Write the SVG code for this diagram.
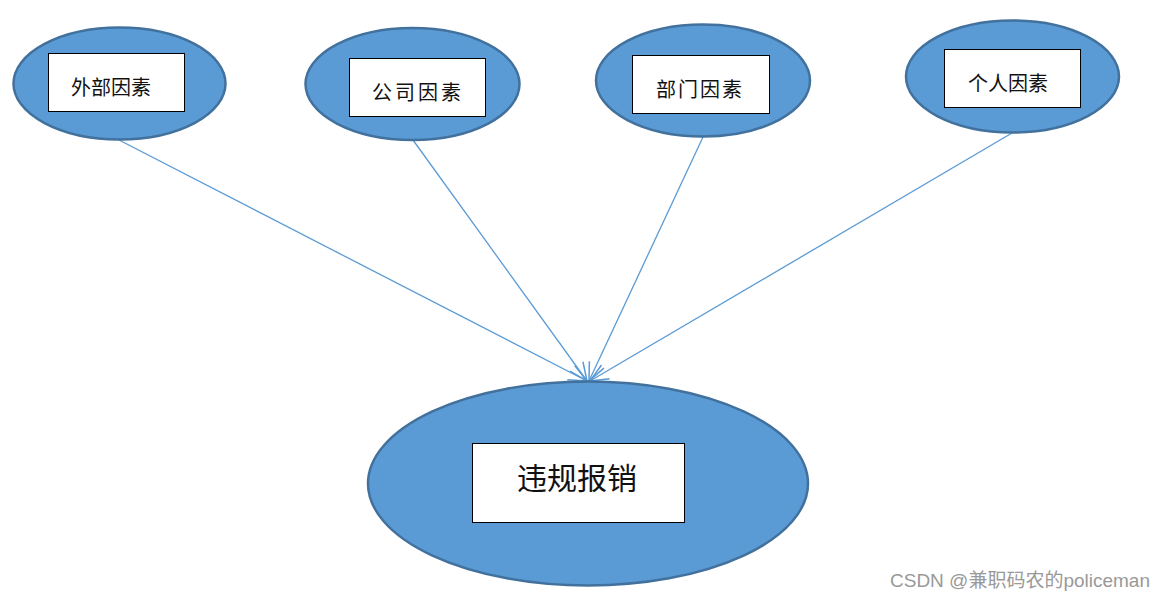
<svg xmlns="http://www.w3.org/2000/svg" width="1165" height="600" viewBox="0 0 1165 600">
<style>
.ell{fill:#5b9bd5;stroke:#41719c;stroke-width:2.5}
.box{fill:#fff;stroke:#000;stroke-width:1}
.lbl{font-family:"Noto Sans CJK SC","Noto Sans",sans-serif;font-size:20px;fill:#111;text-anchor:middle;dominant-baseline:central}
.conn{stroke:#5b9bd5;stroke-width:1.3;fill:none;marker-end:url(#arr)}
</style>
<defs>
<marker id="arr" viewBox="0 0 20 20" refX="19" refY="10" markerWidth="20" markerHeight="20" markerUnits="userSpaceOnUse" orient="auto">
<path d="M1,2 L19,10 L1,18" fill="none" stroke="#5b9bd5" stroke-width="1.5"/>
</marker>
</defs>
<rect width="1165" height="600" fill="#fff"/>
<g id="connectors">
<line class="conn" x1="119" y1="140" x2="587" y2="381"/>
<line class="conn" x1="413" y1="140" x2="587" y2="381"/>
<line class="conn" x1="703" y1="137" x2="589" y2="381"/>
<line class="conn" x1="1012" y1="133" x2="590" y2="381"/>
</g>
<g id="n1">
<ellipse class="ell" cx="119.5" cy="83.5" rx="106" ry="56"/>
<rect class="box" x="48.5" y="53.5" width="136" height="58"/>
<text class="lbl" x="111" y="86">外部因素</text>
</g>
<g id="n2">
<ellipse class="ell" cx="412.5" cy="84" rx="107" ry="56"/>
<rect class="box" x="349.5" y="58.5" width="136" height="58"/>
<text class="lbl" x="418" y="91" letter-spacing="3">公司因素</text>
</g>
<g id="n3">
<ellipse class="ell" cx="703" cy="80.5" rx="107" ry="56"/>
<rect class="box" x="632.5" y="55.5" width="137" height="58"/>
<text class="lbl" x="700" y="88" letter-spacing="2">部门因素</text>
</g>
<g id="n4">
<ellipse class="ell" cx="1012.5" cy="76.5" rx="106.5" ry="56"/>
<rect class="box" x="944.5" y="49.5" width="136" height="58"/>
<text class="lbl" x="1008" y="82">个人因素</text>
</g>
<g id="n5">
<ellipse class="ell" cx="588" cy="483.5" rx="220" ry="102"/>
<rect class="box" x="472.5" y="443.5" width="212" height="79"/>
<text class="lbl" x="577" y="476" style="font-size:30px">违规报销</text>
</g>
<text x="1150" y="587" font-family="'Liberation Sans','Noto Sans CJK SC',sans-serif" font-size="19" fill="#999" text-anchor="end">CSDN @兼职码农的policeman</text>
</svg>
